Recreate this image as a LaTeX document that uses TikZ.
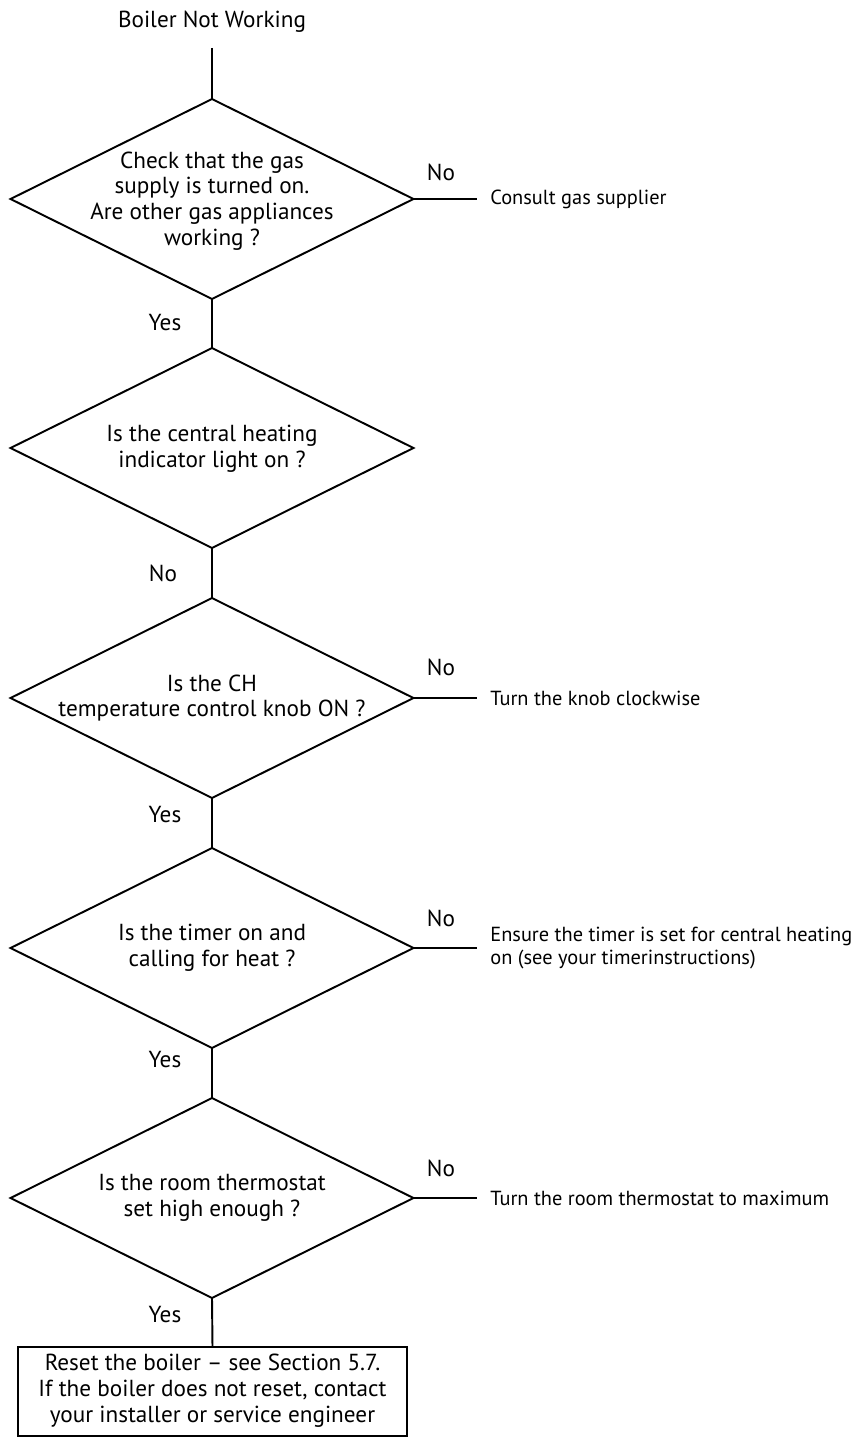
\documentclass[tikz,border=0pt]{standalone}
\usepackage{fontspec}
\setmainfont{PT Sans}
\usetikzlibrary{shapes.geometric}
\begin{document}
\begin{tikzpicture}[x=0.02cm,y=-0.02cm,
  txt/.style={font=\fontsize{13.2}{14.7}\selectfont, align=center, inner sep=0pt},
  decision/.style={draw, line width=1.1pt, diamond, minimum width=8.06cm,
    minimum height=4cm, inner sep=0pt, outer sep=0pt},
  action/.style={draw, line width=1.5pt, rectangle, minimum width=7.78cm,
    minimum height=1.78cm, inner sep=0pt, outer sep=0pt},
  flow/.style={line width=1.1pt},
  result/.style={font=\fontsize{11.6}{13.2}\selectfont, inner sep=0pt, anchor=west, align=left},
  branch/.style={txt}
]
\useasboundingbox (0,0) rectangle (862,1442);
\fill[white] (0,0) rectangle (862,1442);

% start
\node[txt] (title) at (212,22) {Boiler Not Working};
\coordinate (start) at (212,48);

% decisions
\node[decision] (d1) at (212,199) {};
\node[txt] (t1) at (212,201) {Check that the gas\\supply is turned on.\\Are other gas appliances\\working ?};
\node[decision] (d2) at (212,448) {};
\node[txt] (t2) at (212,449) {Is the central heating\\indicator light on ?};
\node[decision] (d3) at (212,698) {};
\node[txt] (t3) at (212,698) {Is the CH\\temperature control knob ON ?};
\node[decision] (d4) at (212,948) {};
\node[txt] (t4) at (212,948) {Is the timer on and\\calling for heat ?};
\node[decision] (d5) at (212,1198) {};
\node[txt] (t5) at (212,1198) {Is the room thermostat\\set high enough ?};

% final action
\node[action] (reset) at (212.5,1391.5) {};
\node[txt] (tr) at (212.5,1391) {Reset the boiler -- see Section 5.7.\\If the boiler does not reset, contact\\your installer or service engineer};

% vertical flow
\draw[flow] (start) -- (d1.north);
\draw[flow] (d1.south) -- (d2.north);
\draw[flow] (d2.south) -- (d3.north);
\draw[flow] (d3.south) -- (d4.north);
\draw[flow] (d4.south) -- (d5.north);
\draw[flow] (d5.south) -- (reset.north);

% side exits
\coordinate (e1) at (477,199);
\coordinate (e3) at (477,698);
\coordinate (e4) at (477,948);
\coordinate (e5) at (477,1198);
\draw[flow] (d1.east) -- (e1);
\draw[flow] (d3.east) -- (e3);
\draw[flow] (d4.east) -- (e4);
\draw[flow] (d5.east) -- (e5);

\node[result] (r1) at (490,199) {Consult gas supplier};
\node[result] (r3) at (490,698) {Turn the knob clockwise};
\node[result] (r4) at (490,948) {Ensure the timer is set for central heating\\on (see your timerinstructions)};
\node[result] (r5) at (490,1198) {Turn the room thermostat to maximum};

% branch labels
\node[branch] (n1) at (441,172) {No};
\node[branch] (n3) at (441,667) {No};
\node[branch] (n4) at (441,918) {No};
\node[branch] (n5) at (441,1168) {No};
\node[branch] (y1) at (165,323) {Yes};
\node[branch] (n2) at (163,573) {No};
\node[branch] (y3) at (165,815) {Yes};
\node[branch] (y4) at (165,1060) {Yes};
\node[branch] (y5) at (165,1315) {Yes};
\end{tikzpicture}
\end{document}
